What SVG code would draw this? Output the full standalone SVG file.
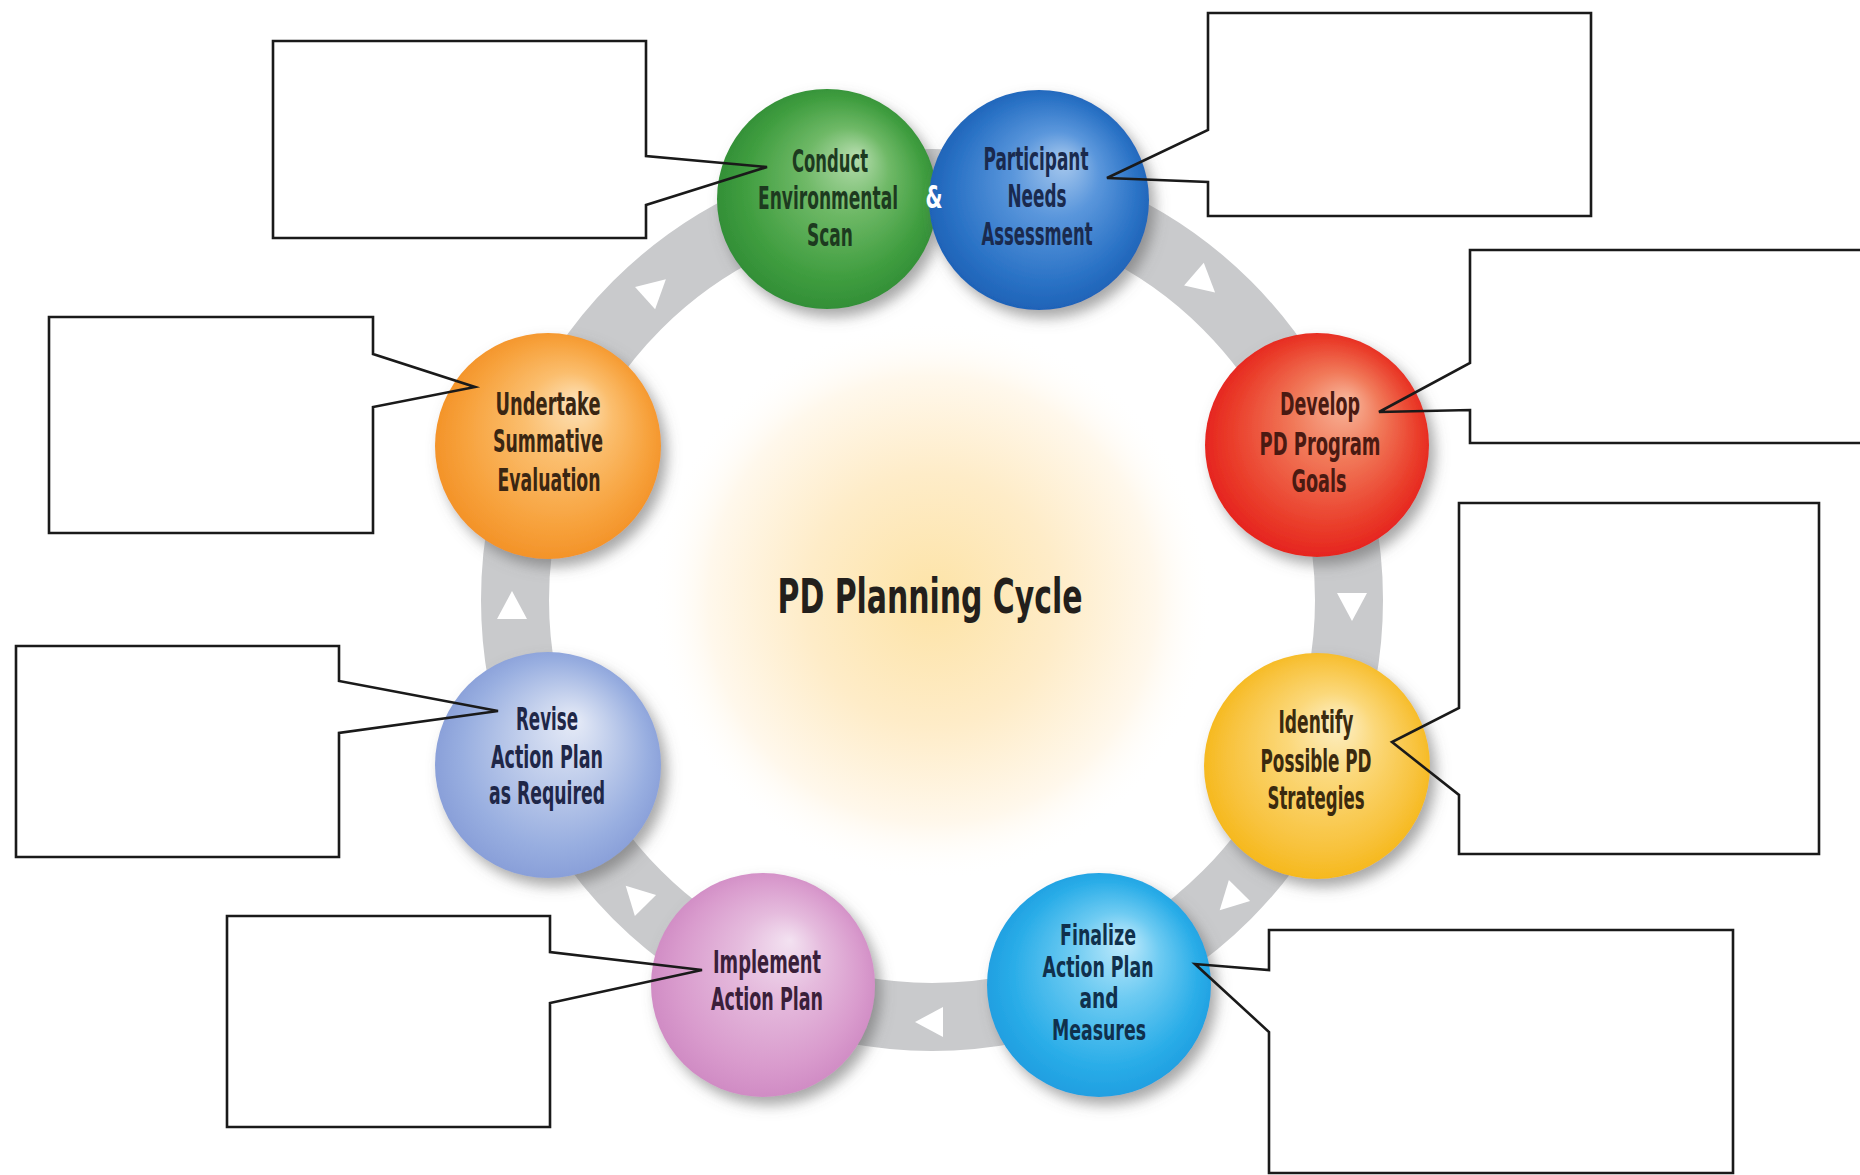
<svg xmlns="http://www.w3.org/2000/svg" width="1860" height="1175" viewBox="0 0 1860 1175">
<style>
.lbl{font-family:"Liberation Sans Narrow","DejaVu Sans Condensed","Liberation Sans",sans-serif;font-weight:bold;font-size:32px;text-anchor:middle;}
.sm{font-size:28px;}
.title{font-family:"Liberation Sans Narrow","DejaVu Sans Condensed","Liberation Sans",sans-serif;font-weight:bold;font-size:48px;text-anchor:middle;fill:#231f1c;}
.callout{fill:none;stroke:#1a1a1a;stroke-width:2.6;stroke-linejoin:miter;}
.ring{fill:none;stroke:#c9cacc;stroke-width:68;}
.tri{fill:#ffffff;}
</style>
<defs>
<radialGradient id="glow" cx="932" cy="600" r="280" gradientUnits="userSpaceOnUse">
<stop offset="0" stop-color="#fde3a6"/>
<stop offset="0.45" stop-color="#feecc8"/>
<stop offset="0.8" stop-color="#fff8ec"/>
<stop offset="1" stop-color="#ffffff" stop-opacity="0"/>
</radialGradient>
<filter id="sh" x="-30%" y="-30%" width="170%" height="170%">
<feGaussianBlur in="SourceAlpha" stdDeviation="7"/>
<feOffset dx="6" dy="8" result="b"/>
<feFlood flood-color="#5f5f5f" flood-opacity="0.55"/>
<feComposite in2="b" operator="in" result="s"/>
<feMerge><feMergeNode in="s"/><feMergeNode in="SourceGraphic"/></feMerge>
</filter>
<radialGradient id="gGreen" cx="0.5" cy="0.5" r="0.55" fx="0.64" fy="0.3">
<stop offset="0" stop-color="#b6ddae"/><stop offset="0.35" stop-color="#6fb967"/><stop offset="0.75" stop-color="#3f9d3f"/><stop offset="1" stop-color="#2e8a34"/>
</radialGradient>
<radialGradient id="gBlue" cx="0.5" cy="0.5" r="0.55" fx="0.62" fy="0.32">
<stop offset="0" stop-color="#a8c9ee"/><stop offset="0.35" stop-color="#5b97dc"/><stop offset="0.75" stop-color="#2b73c6"/><stop offset="1" stop-color="#1a5db2"/>
</radialGradient>
<radialGradient id="gRed" cx="0.5" cy="0.5" r="0.55" fx="0.64" fy="0.3">
<stop offset="0" stop-color="#f8b79c"/><stop offset="0.35" stop-color="#f17a5a"/><stop offset="0.75" stop-color="#ea3e2b"/><stop offset="1" stop-color="#e41b1a"/>
</radialGradient>
<radialGradient id="gYellow" cx="0.5" cy="0.5" r="0.55" fx="0.6" fy="0.3">
<stop offset="0" stop-color="#fdf0c8"/><stop offset="0.35" stop-color="#fbd87a"/><stop offset="0.75" stop-color="#f8c33e"/><stop offset="1" stop-color="#f5b512"/>
</radialGradient>
<radialGradient id="gCyan" cx="0.5" cy="0.5" r="0.55" fx="0.62" fy="0.3">
<stop offset="0" stop-color="#c2ebfc"/><stop offset="0.35" stop-color="#6ecbf2"/><stop offset="0.75" stop-color="#2aade8"/><stop offset="1" stop-color="#1c9ade"/>
</radialGradient>
<radialGradient id="gPink" cx="0.5" cy="0.5" r="0.55" fx="0.62" fy="0.3">
<stop offset="0" stop-color="#f3e2f1"/><stop offset="0.35" stop-color="#e5bbdd"/><stop offset="0.75" stop-color="#d99bcd"/><stop offset="1" stop-color="#cd86c1"/>
</radialGradient>
<radialGradient id="gLav" cx="0.5" cy="0.5" r="0.55" fx="0.62" fy="0.3">
<stop offset="0" stop-color="#e6ebf7"/><stop offset="0.35" stop-color="#c2cfec"/><stop offset="0.75" stop-color="#98aee0"/><stop offset="1" stop-color="#849ad6"/>
</radialGradient>
<radialGradient id="gOrange" cx="0.5" cy="0.5" r="0.55" fx="0.64" fy="0.3">
<stop offset="0" stop-color="#fde3ba"/><stop offset="0.35" stop-color="#fbbe6e"/><stop offset="0.75" stop-color="#f7a13b"/><stop offset="1" stop-color="#f28e22"/>
</radialGradient>
<polygon id="arrowTri" points="16,0 -12,-15 -12,15"/>
</defs>

<rect x="0" y="0" width="1860" height="1175" fill="#ffffff"/>
<circle cx="932" cy="600" r="280" fill="url(#glow)"/>

<g id="connectors">
<circle class="ring" cx="932" cy="600" r="417"/>
<use href="#arrowTri" class="tri" transform="translate(654,290) rotate(-42)"/>
<use href="#arrowTri" class="tri" transform="translate(1203,282) rotate(41)"/>
<use href="#arrowTri" class="tri" transform="translate(1352,605) rotate(90)"/>
<use href="#arrowTri" class="tri" transform="translate(1231,899) rotate(135)"/>
<use href="#arrowTri" class="tri" transform="translate(931,1022) rotate(180)"/>
<use href="#arrowTri" class="tri" transform="translate(637,897) rotate(225)"/>
<use href="#arrowTri" class="tri" transform="translate(512,607) rotate(270)"/>
</g>

<text class="title" x="930" y="613" textLength="305" lengthAdjust="spacingAndGlyphs">PD Planning Cycle</text>

<g id="node-conduct">
<circle cx="827" cy="199" r="110" fill="url(#gGreen)" filter="url(#sh)"/>
<text class="lbl" fill="#1d3a1f" x="830" y="172" textLength="76" lengthAdjust="spacingAndGlyphs">Conduct</text>
<text class="lbl" fill="#1d3a1f" x="828" y="209" textLength="140" lengthAdjust="spacingAndGlyphs">Environmental</text>
<text class="lbl" fill="#1d3a1f" x="830" y="246" textLength="46" lengthAdjust="spacingAndGlyphs">Scan</text>
</g>

<g id="node-participant">
<circle cx="1039" cy="200" r="110" fill="url(#gBlue)" filter="url(#sh)"/>
<text class="lbl" fill="#1a2a4e" x="1036" y="170" textLength="105" lengthAdjust="spacingAndGlyphs">Participant</text>
<text class="lbl" fill="#1a2a4e" x="1037" y="207" textLength="59" lengthAdjust="spacingAndGlyphs">Needs</text>
<text class="lbl" fill="#1a2a4e" x="1037" y="245" textLength="111" lengthAdjust="spacingAndGlyphs">Assessment</text>
</g>

<text id="ampersand" class="lbl" fill="#ffffff" x="934" y="208" textLength="17" lengthAdjust="spacingAndGlyphs">&amp;</text>

<g id="node-develop">
<circle cx="1317" cy="445" r="112" fill="url(#gRed)" filter="url(#sh)"/>
<text class="lbl" fill="#4a1a12" x="1320" y="415" textLength="80" lengthAdjust="spacingAndGlyphs">Develop</text>
<text class="lbl" fill="#4a1a12" x="1320" y="455" textLength="121" lengthAdjust="spacingAndGlyphs">PD Program</text>
<text class="lbl" fill="#4a1a12" x="1319" y="492" textLength="55" lengthAdjust="spacingAndGlyphs">Goals</text>
</g>

<g id="node-identify">
<circle cx="1317" cy="766" r="113" fill="url(#gYellow)" filter="url(#sh)"/>
<text class="lbl" fill="#3b2a0e" x="1316" y="733" textLength="75" lengthAdjust="spacingAndGlyphs">Identify</text>
<text class="lbl" fill="#3b2a0e" x="1316" y="772" textLength="111" lengthAdjust="spacingAndGlyphs">Possible PD</text>
<text class="lbl" fill="#3b2a0e" x="1316" y="809" textLength="97" lengthAdjust="spacingAndGlyphs">Strategies</text>
</g>

<g id="node-finalize">
<circle cx="1099" cy="985" r="112" fill="url(#gCyan)" filter="url(#sh)"/>
<text class="lbl sm" fill="#10304c" x="1098" y="945" textLength="76" lengthAdjust="spacingAndGlyphs">Finalize</text>
<text class="lbl sm" fill="#10304c" x="1098" y="977" textLength="111" lengthAdjust="spacingAndGlyphs">Action Plan</text>
<text class="lbl sm" fill="#10304c" x="1099" y="1008" textLength="39" lengthAdjust="spacingAndGlyphs">and</text>
<text class="lbl sm" fill="#10304c" x="1099" y="1040" textLength="94" lengthAdjust="spacingAndGlyphs">Measures</text>
</g>

<g id="node-implement">
<circle cx="763" cy="985" r="112" fill="url(#gPink)" filter="url(#sh)"/>
<text class="lbl" fill="#3a1f3a" x="767" y="973" textLength="108" lengthAdjust="spacingAndGlyphs">Implement</text>
<text class="lbl" fill="#3a1f3a" x="767" y="1010" textLength="112" lengthAdjust="spacingAndGlyphs">Action Plan</text>
</g>

<g id="node-revise">
<circle cx="548" cy="765" r="113" fill="url(#gLav)" filter="url(#sh)"/>
<text class="lbl" fill="#1f2748" x="547" y="730" textLength="62" lengthAdjust="spacingAndGlyphs">Revise</text>
<text class="lbl" fill="#1f2748" x="547" y="768" textLength="112" lengthAdjust="spacingAndGlyphs">Action Plan</text>
<text class="lbl" fill="#1f2748" x="547" y="804" textLength="116" lengthAdjust="spacingAndGlyphs">as Required</text>
</g>

<g id="node-undertake">
<circle cx="548" cy="446" r="113" fill="url(#gOrange)" filter="url(#sh)"/>
<text class="lbl" fill="#3a2612" x="548" y="415" textLength="105" lengthAdjust="spacingAndGlyphs">Undertake</text>
<text class="lbl" fill="#3a2612" x="548" y="452" textLength="110" lengthAdjust="spacingAndGlyphs">Summative</text>
<text class="lbl" fill="#3a2612" x="549" y="491" textLength="103" lengthAdjust="spacingAndGlyphs">Evaluation</text>
</g>

<g id="callout-conduct"><path class="callout" d="M273,41 H646 V156 L767,167 L646,205 V238 H273 Z"/></g>
<g id="callout-participant"><path class="callout" d="M1208,13 H1591 V216 H1208 V182 L1107,178 L1208,130 Z"/></g>
<g id="callout-develop"><path class="callout" d="M1470,250 H1866 V443 H1470 V410 L1379,412 L1470,363 Z"/></g>
<g id="callout-identify"><path class="callout" d="M1459,503 H1819 V854 H1459 V795 L1392,742 L1459,708 Z"/></g>
<g id="callout-finalize"><path class="callout" d="M1269,930 H1733 V1173 H1269 V1032 L1195,964 L1269,970 Z"/></g>
<g id="callout-implement"><path class="callout" d="M227,916 H550 V952 L702,970 L550,1003 V1127 H227 Z"/></g>
<g id="callout-revise"><path class="callout" d="M16,646 H339 V681 L498,711 L339,733 V857 H16 Z"/></g>
<g id="callout-undertake"><path class="callout" d="M49,317 H373 V354 L475,387 L373,407 V533 H49 Z"/></g>
</svg>
